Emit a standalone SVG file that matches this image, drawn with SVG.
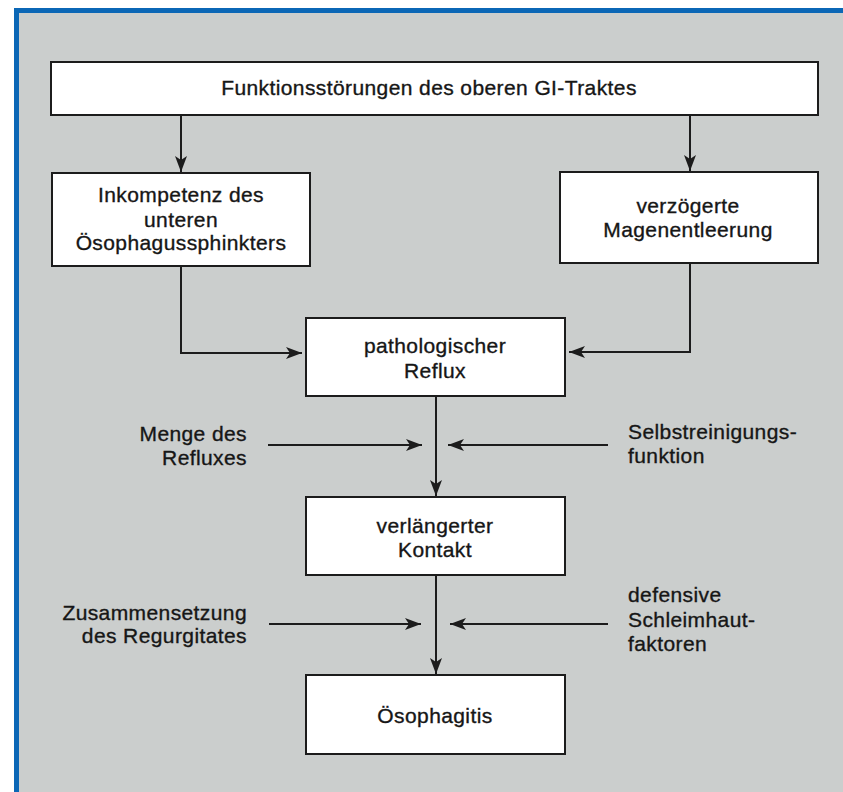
<svg xmlns="http://www.w3.org/2000/svg" width="843" height="792" viewBox="0 0 843 792">
<style>
.box{fill:#ffffff;stroke:#1c1c1c;stroke-width:2}
.t{font-family:"Liberation Sans",Arial,sans-serif;font-size:21px;fill:#161616;stroke:#161616;stroke-width:0.35;letter-spacing:0.4px}
.c{text-anchor:middle}
.r{text-anchor:end}
.l{text-anchor:start}
.ln{fill:none;stroke:#1c1c1c;stroke-width:2}
</style>
<defs>
<marker id="ah" markerUnits="userSpaceOnUse" markerWidth="18" markerHeight="14" viewBox="-17 -7 18 14" refX="0" refY="0" orient="auto">
<path d="M0,0 L-16,-6 L-12,0 L-16,6 Z" fill="#1c1c1c"/>
</marker>
</defs>
<rect x="0" y="0" width="843" height="792" fill="#ffffff"/>
<rect x="14" y="8" width="829" height="784" fill="#0b67b6"/>
<rect x="19" y="13" width="824" height="779" fill="#cbcecd"/>

<g id="connectors">
<path class="ln" d="M181,115 V172" marker-end="url(#ah)"/>
<path class="ln" d="M690,115 V171" marker-end="url(#ah)"/>
<path class="ln" d="M181,266 V353 H302" marker-end="url(#ah)"/>
<path class="ln" d="M690,263 V352 H569" marker-end="url(#ah)"/>
<path class="ln" d="M436,396 V496" marker-end="url(#ah)"/>
<path class="ln" d="M268,445 H422" marker-end="url(#ah)"/>
<path class="ln" d="M608,445 H448" marker-end="url(#ah)"/>
<path class="ln" d="M436,575 V674" marker-end="url(#ah)"/>
<path class="ln" d="M269,624 H421" marker-end="url(#ah)"/>
<path class="ln" d="M608,624 H450" marker-end="url(#ah)"/>
</g>

<g id="n-top">
<rect class="box" x="51" y="62" width="767" height="53"/>
<text class="t c" x="429" y="95">Funktionsstörungen des oberen GI-Traktes</text>
</g>
<g id="n-inkompetenz">
<rect class="box" x="52" y="173" width="258" height="93"/>
<text class="t c" x="181" y="202">Inkompetenz des</text>
<text class="t c" x="181" y="227">unteren</text>
<text class="t c" x="181" y="250">Ösophagussphinkters</text>
</g>
<g id="n-magen">
<rect class="box" x="560" y="172" width="258" height="91"/>
<text class="t c" x="688" y="213">verzögerte</text>
<text class="t c" x="688" y="237">Magenentleerung</text>
</g>
<g id="n-reflux">
<rect class="box" x="306" y="318" width="259" height="78"/>
<text class="t c" x="435" y="353">pathologischer</text>
<text class="t c" x="435" y="378">Reflux</text>
</g>
<g id="n-kontakt">
<rect class="box" x="306" y="497" width="259" height="78"/>
<text class="t c" x="435" y="533">verlängerter</text>
<text class="t c" x="435" y="557">Kontakt</text>
</g>
<g id="n-oesophagitis">
<rect class="box" x="306" y="675" width="259" height="79"/>
<text class="t c" x="435" y="723">Ösophagitis</text>
</g>
<g id="l-menge">
<text class="t r" x="247" y="441">Menge des</text>
<text class="t r" x="247" y="465">Refluxes</text>
</g>
<g id="l-selbst">
<text class="t l" x="628" y="439">Selbstreinigungs-</text>
<text class="t l" x="628" y="463">funktion</text>
</g>
<g id="l-zusammen">
<text class="t r" x="247" y="620">Zusammensetzung</text>
<text class="t r" x="247" y="643">des Regurgitates</text>
</g>
<g id="l-defensiv">
<text class="t l" x="628" y="602">defensive</text>
<text class="t l" x="628" y="627">Schleimhaut-</text>
<text class="t l" x="628" y="651">faktoren</text>
</g>
</svg>
